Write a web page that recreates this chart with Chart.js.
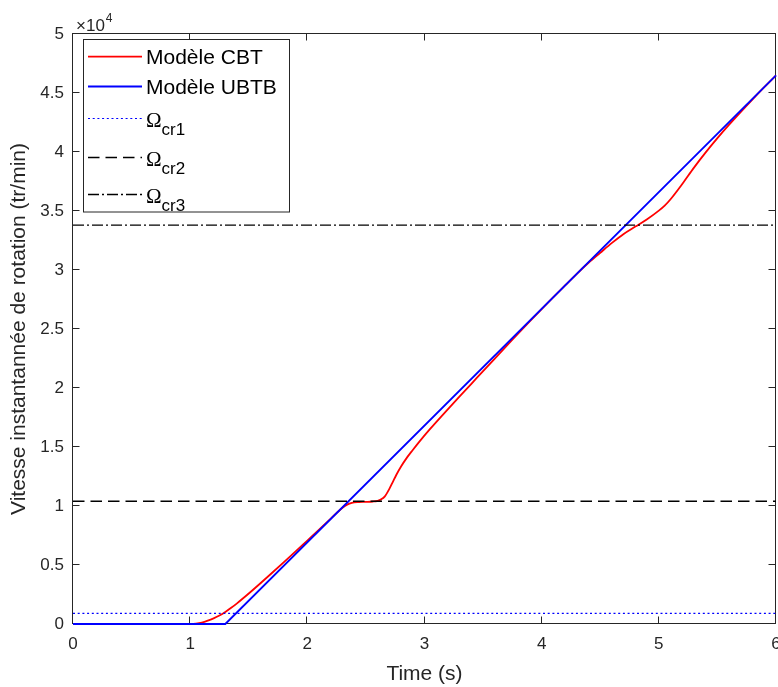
<!DOCTYPE html>
<html>
<head>
<meta charset="utf-8">
<script src="https://cdn.jsdelivr.net/npm/chart.js@4.4.0/dist/chart.umd.min.js"></script>
<style>
    body { margin: 0; background: #fff; }
    canvas { display: block; }
</style>
</head>
<body>
<canvas id="grafik" width="778" height="687"></canvas>
<script>
// Modèle CBT (temps en s, vitesse en tr/min)
var tempsCBT = [0, 1.0, 1.05, 1.1, 1.15, 1.2, 1.25, 1.3, 1.35, 1.4, 1.5, 1.6, 1.7, 1.8, 1.9, 2.0, 2.1, 2.2, 2.3, 2.34, 2.38, 2.44, 2.5, 2.56, 2.6, 2.63, 2.66, 2.7, 2.73, 2.76, 2.8, 2.85, 2.9, 2.96, 3.05, 3.15, 3.3, 3.45, 3.6, 3.75, 3.9, 4.0, 4.1, 4.2, 4.3, 4.4, 4.5, 4.6, 4.7, 4.8, 4.9, 5.0, 5.05, 5.1, 5.2, 5.3, 5.4, 5.5, 5.6, 5.7, 5.8, 5.9, 6.0];
var vitesseCBT = [0, 0, 30, 120, 280, 480, 720, 1020, 1370, 1750, 2580, 3450, 4340, 5240, 6150, 7070, 7990, 8930, 9850, 10120, 10270, 10330, 10350, 10380, 10440, 10560, 10800, 11450, 12050, 12650, 13350, 14100, 14750, 15500, 16555, 17664, 19288, 20892, 22496, 24090, 25664, 26694, 27700, 28690, 29680, 30611, 31461, 32300, 33060, 33680, 34300, 35028, 35453, 35997, 37287, 38676, 39965, 41175, 42314, 43404, 44463, 45492, 46500];

// Modèle UBTB
var tempsUBTB = [0, 1.3, 6];
var vitesseUBTB = [0, 0, 46500];

// vitesses critiques
var omegaCr = [900, 10400, 33800];
var omegaNoms = ['cr1', 'cr2', 'cr3'];

var xTicks = [0, 1, 2, 3, 4, 5, 6];
var yTicks = [0, 5000, 10000, 15000, 20000, 25000, 30000, 35000, 40000, 45000, 50000];
var yTickLabels = ['0', '0.5', '1', '1.5', '2', '2.5', '3', '3.5', '4', '4.5', '5'];

var couleurAxe = '#262626';
var police = "'Liberation Sans', Arial, sans-serif";

function points(xs, ys) {
    return xs.map(function (x, i) { return { x: x, y: ys[i] }; });
}

var datasets = [
    {
        label: 'Modèle CBT',
        data: points(tempsCBT, vitesseCBT),
        borderColor: 'rgb(255, 0, 0)',
        borderWidth: 1.8,
        cubicInterpolationMode: 'monotone',
        clip: 3,
        order: 5
    },
    {
        label: 'Modèle UBTB',
        data: points(tempsUBTB, vitesseUBTB),
        borderColor: 'rgb(0, 0, 255)',
        borderWidth: 1.8,
        clip: 3,
        order: 4
    },
    {
        label: 'Ω',
        sub: omegaNoms[0],
        data: points([0, 6], [omegaCr[0], omegaCr[0]]),
        borderColor: 'rgb(0, 0, 255)',
        borderWidth: 1.2,
        borderDash: [2, 2.7],
        order: 3
    },
    {
        label: 'Ω',
        sub: omegaNoms[1],
        data: points([0, 6], [omegaCr[1], omegaCr[1]]),
        borderColor: '#000',
        borderWidth: 1.5,
        borderDash: [11.5, 6],
        order: 2
    },
    {
        label: 'Ω',
        sub: omegaNoms[2],
        data: points([0, 6], [omegaCr[2], omegaCr[2]]),
        borderColor: '#000',
        borderWidth: 1.3,
        borderDash: [11, 3, 2, 3],
        order: 1
    }
];

// cadre et graduations intérieures (sous les courbes), puis ×10^4 et légende
var cadre = {
    id: 'cadre',
    beforeDatasetsDraw: function (chart) {
        var ctx = chart.ctx;
        var a = chart.chartArea;
        var xs = chart.scales.x;
        var ys = chart.scales.y;
        var L = Math.round(a.left) - 0.5, R = Math.round(a.right) - 0.5;
        var T = Math.round(a.top) - 0.5, B = Math.round(a.bottom) - 0.5;

        ctx.save();
        ctx.strokeStyle = couleurAxe;
        ctx.lineWidth = 1;
        ctx.beginPath();
        xs.ticks.forEach(function (t) {
            var px = Math.round(xs.getPixelForValue(t.value)) - 0.5;
            ctx.moveTo(px, B); ctx.lineTo(px, B - 7);
            ctx.moveTo(px, T); ctx.lineTo(px, T + 7);
        });
        ys.ticks.forEach(function (t) {
            var py = Math.round(ys.getPixelForValue(t.value)) - 0.5;
            ctx.moveTo(L, py); ctx.lineTo(L + 7, py);
            ctx.moveTo(R, py); ctx.lineTo(R - 7, py);
        });
        ctx.stroke();
        ctx.strokeRect(L, T, R - L, B - T);
        ctx.restore();
    },
    afterDatasetsDraw: function (chart) {
        var ctx = chart.ctx;
        var a = chart.chartArea;

        ctx.save();
        // ×10^4
        ctx.fillStyle = couleurAxe;
        ctx.textBaseline = 'alphabetic';
        ctx.textAlign = 'left';
        ctx.font = '17px ' + police;
        ctx.fillText('×10', a.left + 3, a.top - 3);
        var w = ctx.measureText('×10').width;
        ctx.font = '12px ' + police;
        ctx.fillText('4', a.left + 3 + w + 1, a.top - 12);

        // légende
        var lx = 83.5, ly = 39.5, lw = 206, lh = 172.5;
        ctx.fillStyle = '#fff';
        ctx.fillRect(lx, ly, lw, lh);
        ctx.strokeStyle = couleurAxe;
        ctx.lineWidth = 1;
        ctx.setLineDash([]);
        ctx.strokeRect(lx, ly, lw, lh);

        var lignes = [56.7, 86.5, 118.5, 157.5, 194.5];
        chart.data.datasets.forEach(function (ds, i) {
            var y = lignes[i];
            ctx.save();
            ctx.strokeStyle = ds.borderColor;
            ctx.lineWidth = ds.borderWidth;
            ctx.setLineDash(ds.borderDash || []);
            ctx.beginPath();
            ctx.moveTo(88, y);
            ctx.lineTo(142, y);
            ctx.stroke();
            ctx.restore();

            ctx.fillStyle = '#000';
            ctx.textAlign = 'left';
            ctx.textBaseline = 'alphabetic';
            if (ds.sub) {
                ctx.font = "21px 'Liberation Serif', 'Times New Roman', serif";
                ctx.fillText(ds.label, 146, y + 8);
                var wo = ctx.measureText(ds.label).width;
                ctx.font = '17px ' + police;
                ctx.fillText(ds.sub, 146 + wo, y + 16.5);
            } else {
                ctx.font = '21px ' + police;
                ctx.fillText(ds.label, 146, y + 7.5);
            }
        });
        ctx.restore();
    }
};

var ctx = document.getElementById('grafik').getContext('2d');
var chart = new Chart(ctx, {
    type: 'line',
    data: { datasets: datasets },
    plugins: [cadre],
    options: {
        responsive: false,
        animation: false,
        events: [],
        layout: { padding: { top: 34, right: 2, left: 0, bottom: 0 } },
        elements: { point: { radius: 0 }, line: { fill: false } },
        plugins: { legend: { display: false }, tooltip: { enabled: false } },
        scales: {
            x: {
                type: 'linear',
                min: 0,
                max: 6,
                afterBuildTicks: function (s) {
                    s.ticks = xTicks.map(function (v) { return { value: v }; });
                },
                afterFit: function (s) {
                    s.height = 63;
                    s.paddingLeft = 0;
                    s.paddingRight = 0;
                },
                grid: { display: false, drawTicks: false },
                border: { display: false },
                ticks: {
                    padding: 10,
                    color: couleurAxe,
                    font: { family: police, size: 17 },
                    maxRotation: 0,
                    callback: function (v) { return String(v); }
                },
                title: {
                    display: true,
                    text: 'Time (s)',
                    color: couleurAxe,
                    font: { family: police, size: 21 },
                    padding: { top: 0, bottom: 0 }
                }
            },
            y: {
                type: 'linear',
                min: 0,
                max: 50000,
                afterBuildTicks: function (s) {
                    s.ticks = yTicks.map(function (v) { return { value: v }; });
                },
                afterFit: function (s) {
                    s.width = 73;
                    s.paddingTop = 0;
                    s.paddingBottom = 0;
                },
                grid: { display: false, drawTicks: false },
                border: { display: false },
                ticks: {
                    padding: 9,
                    color: couleurAxe,
                    font: { family: police, size: 17 },
                    callback: function (v, i) { return yTickLabels[i]; }
                },
                title: {
                    display: true,
                    text: 'Vitesse instantannée de rotation (tr/min)',
                    color: couleurAxe,
                    font: { family: police, size: 21 },
                    padding: { top: 7, bottom: 0 }
                }
            }
        }
    }
});
</script>
</body>
</html>
